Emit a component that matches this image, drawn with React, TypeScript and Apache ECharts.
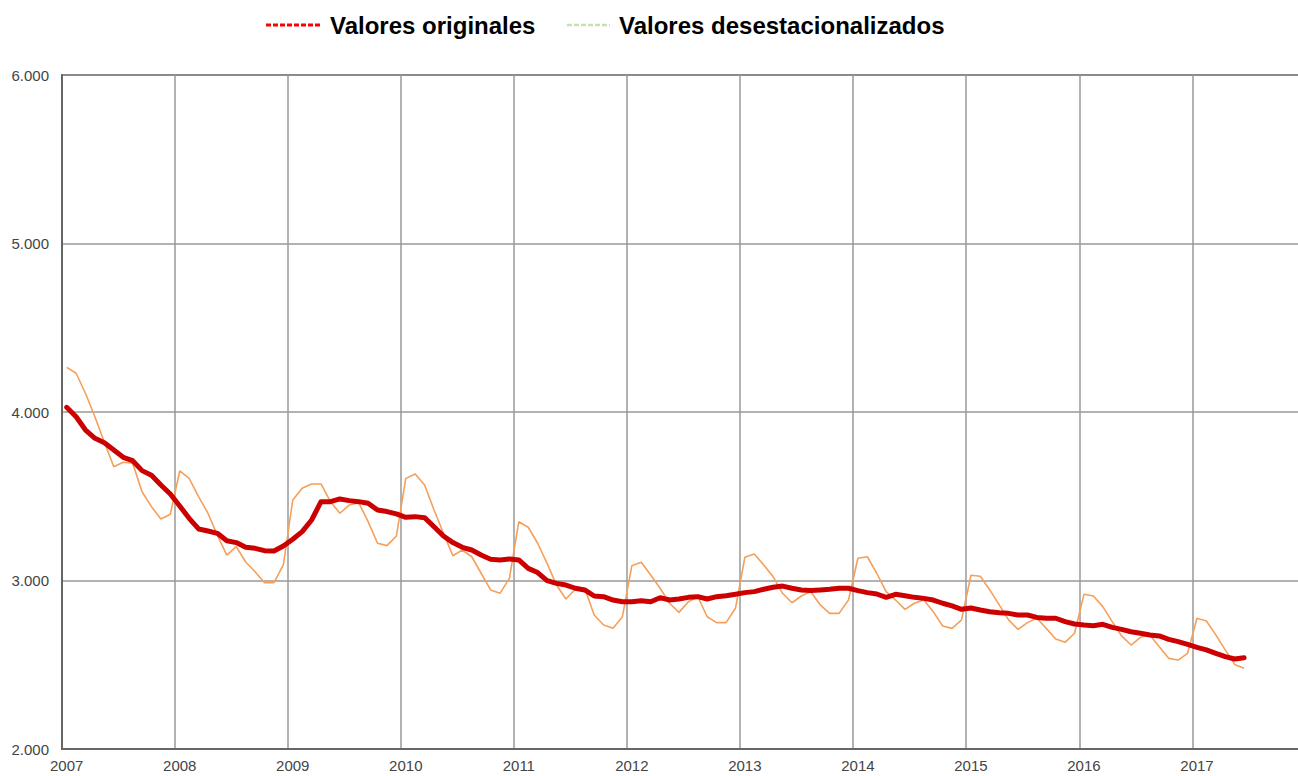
import React, { useEffect, useRef } from "react";
import * as echarts from "echarts";

const years: number[] = [2007, 2008, 2009, 2010, 2011, 2012, 2013, 2014, 2015, 2016, 2017];

const seriesNames: string[] = ["Valores originales", "Valores desestacionalizados"];

// Monthly values from Jan 2007 to Jun 2017
const originales: number[] = [
  4265, 4230, 4110, 3970, 3820, 3675, 3702, 3696, 3527, 3438, 3365, 3393,
  3650, 3606, 3498, 3399, 3268, 3151, 3201, 3110, 3052, 2987, 2987, 3092,
  3478, 3547, 3573, 3573, 3468, 3399, 3448, 3462, 3349, 3221, 3207, 3264,
  3606, 3632, 3567, 3418, 3280, 3147, 3181, 3141, 3043, 2944, 2924, 3013,
  3349, 3316, 3221, 3102, 2973, 2890, 2948, 2954, 2795, 2736, 2716, 2785,
  3088, 3108, 3033, 2954, 2865, 2811, 2874, 2904, 2785, 2750, 2750, 2835,
  3138, 3157, 3092, 3023, 2924, 2868, 2908, 2934, 2855, 2805, 2805, 2884,
  3132, 3141, 3043, 2934, 2884, 2829, 2865, 2884, 2815, 2730, 2716, 2766,
  3031, 3025, 2944, 2855, 2766, 2710, 2750, 2776, 2716, 2653, 2633, 2687,
  2918, 2908, 2845, 2756, 2671, 2617, 2663, 2677, 2607, 2538, 2528, 2568,
  2776, 2760, 2677, 2588, 2502, 2479,
];

const desestacionalizados: number[] = [
  4028, 3972, 3893, 3844, 3818, 3775, 3731, 3711, 3652, 3624, 3567, 3513,
  3442, 3369, 3306, 3294, 3280, 3236, 3225, 3197, 3191, 3177, 3175, 3205,
  3245, 3290, 3359, 3468, 3468, 3484, 3474, 3468, 3458, 3418, 3409, 3395,
  3375, 3379, 3373, 3319, 3264, 3225, 3197, 3181, 3151, 3126, 3122, 3128,
  3122, 3072, 3047, 2999, 2983, 2973, 2954, 2944, 2908, 2904, 2884, 2874,
  2874, 2880, 2874, 2898, 2884, 2890, 2900, 2904, 2890, 2904, 2910, 2918,
  2928, 2934, 2948, 2960, 2967, 2954, 2944, 2940, 2944, 2948, 2954, 2954,
  2940, 2928, 2920, 2900, 2918, 2910, 2900, 2894, 2884, 2865, 2849, 2829,
  2837, 2825, 2815, 2809, 2805, 2795, 2795, 2781, 2776, 2776, 2756, 2742,
  2736, 2732, 2740, 2722, 2710, 2696, 2687, 2677, 2671, 2651, 2637, 2621,
  2603, 2588, 2568, 2548, 2534, 2542,
];

const months: string[] = [];
years.forEach((y) => {
  for (let m = 1; m <= 12; m++) months.push(`${y}-${m < 10 ? "0" + m : m}`);
});

const FONT = "'Liberation Sans', Arial, sans-serif";

export default function App() {
  const ref = useRef<HTMLDivElement>(null);
  useEffect(() => {
    if (!ref.current) return;
    const chart = echarts.init(ref.current, undefined, { renderer: "svg" });
    const bandW = 9.419;
    chart.setOption({
      animation: false,
      backgroundColor: "#ffffff",
      grid: {
        left: 62,
        top: 75,
        width: bandW * months.length,
        height: 674,
        show: true,
        borderColor: "#666666",
        borderWidth: 2,
        backgroundColor: "transparent",
        containLabel: false,
      },
      xAxis: {
        type: "category",
        data: months,
        boundaryGap: true,
        axisLine: { show: true, lineStyle: { color: "#666666", width: 2 } },
        axisTick: { show: false, interval: 11 },
        axisLabel: {
          interval: 11,
          margin: 9,
          color: "#444444",
          fontSize: 15,
          fontFamily: FONT,
          formatter: (v: string) => v.slice(0, 4),
        },
        splitLine: { show: true, interval: 11, lineStyle: { color: "#999999", width: 1.5 } },
      },
      yAxis: {
        type: "value",
        min: 2000,
        max: 6000,
        interval: 1000,
        axisLine: { show: true, lineStyle: { color: "#666666", width: 2 } },
        axisTick: { show: false },
        axisLabel: {
          margin: 13,
          color: "#444444",
          fontSize: 15,
          fontFamily: FONT,
          formatter: (v: number) => {
            const s = String(Math.round(v));
            return s.length > 3 ? s.slice(0, s.length - 3) + "." + s.slice(s.length - 3) : s;
          },
        },
        splitLine: { show: true, lineStyle: { color: "#999999", width: 1.5 } },
      },
      series: [
        {
          name: seriesNames[0],
          type: "line",
          data: originales,
          symbol: "none",
          lineStyle: { color: "#f5a05a", width: 1.6 },
          z: 2,
        },
        {
          name: seriesNames[1],
          type: "line",
          data: desestacionalizados,
          symbol: "none",
          lineStyle: { color: "#cc0000", width: 5, join: "round", cap: "round" },
          z: 3,
        },
      ],
      graphic: [
        {
          type: "line",
          shape: { x1: 266, y1: 25, x2: 322, y2: 25 },
          style: { stroke: "#ff0000", lineWidth: 3, lineDash: [5, 2] },
        },
        {
          type: "text",
          x: 330,
          y: 25,
          style: {
            text: seriesNames[0],
            font: `bold 24px ${FONT}`,
            fill: "#000000",
            verticalAlign: "middle",
          },
        },
        {
          type: "line",
          shape: { x1: 567, y1: 25, x2: 610, y2: 25 },
          style: { stroke: "#c4e2b0", lineWidth: 2.5, lineDash: [5, 2] },
        },
        {
          type: "text",
          x: 619,
          y: 25,
          style: {
            text: seriesNames[1],
            font: `bold 24px ${FONT}`,
            fill: "#000000",
            verticalAlign: "middle",
          },
        },
      ],
    });
    return () => chart.dispose();
  }, []);
  return (
    <div style={{ position: "fixed", left: 0, top: 0, width: 1298, height: 776, overflow: "hidden", background: "#ffffff" }}>
      <div ref={ref} style={{ position: "absolute", left: 0, top: 0, width: 1330, height: 776 }} />
    </div>
  );
}
